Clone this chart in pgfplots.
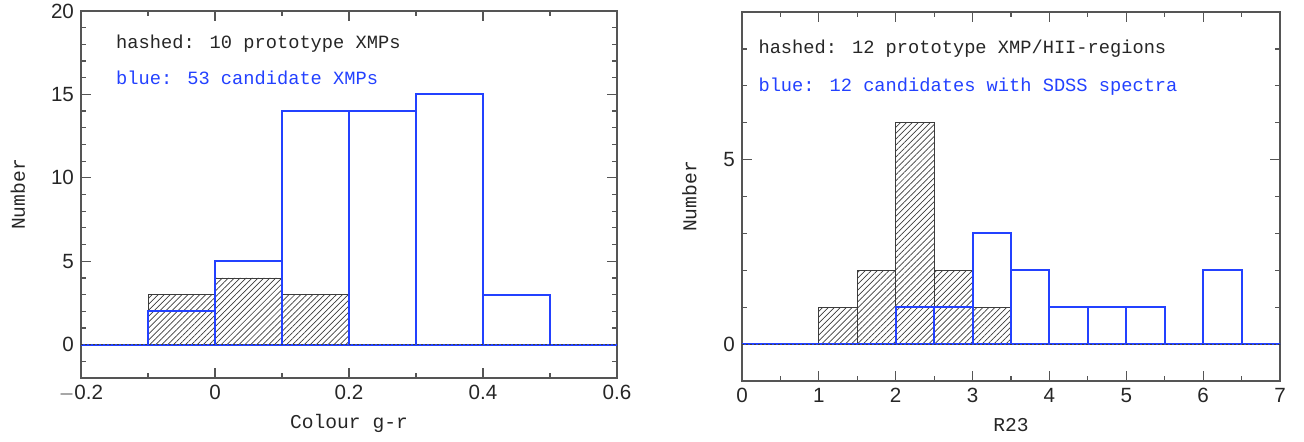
\documentclass[border=0pt]{standalone}
\usepackage{fontspec}
\setmainfont{Liberation Sans}
\newfontfamily\labelfont{Liberation Mono}
\usepackage{pgfplots}
\pgfplotsset{compat=1.18}
\usetikzlibrary{patterns.meta}

\definecolor{histblue}{RGB}{35,65,255}
\definecolor{framegray}{RGB}{85,85,85}
\definecolor{hatchgray}{RGB}{60,60,60}

% Bin edges and counts (last row closes the final interval)
\pgfplotstableread{
x     proto  cand
-0.2  0      0
-0.1  3      2
0.0   4      5
0.1   3      14
0.2   0      14
0.3   0      15
0.4   0      3
0.5   0      0
0.6   0      0
}\colourdata

\pgfplotstableread{
x    proto  cand
0.0  0      0
0.5  0      0
1.0  1      0
1.5  2      0
2.0  6      1
2.5  2      1
3.0  1      3
3.5  0      2
4.0  0      1
4.5  0      1
5.0  0      1
5.5  0      0
6.0  0      2
6.5  0      0
7.0  0      0
}\rtwothreedata

\tikzset{note/.style={anchor=west, inner sep=0pt, font=\labelfont\fontsize{9.35}{12}\selectfont}}

\pgfplotsset{
  histframe/.style={
    scale only axis,
    axis line style={framegray, line width=0.6pt},
    tick style={framegray, line width=0.6pt},
    tick align=inside,
    xtick pos=both, ytick pos=both,
    major tick length=5pt,
    minor tick length=2.5pt,
    ticklabel style={font=\fontsize{10.3}{12}\selectfont, text=black!85},
    /pgf/number format/assume math mode=true,
    label style={font=\labelfont\fontsize{9.8}{12}\selectfont, text=black!85},
    clip=false,
  },
  hatched/.style={
    ybar interval, draw=hatchgray, line width=0.4pt,
    pattern={Lines[angle=45, distance=2.1pt, line width=0.35pt]},
    pattern color=hatchgray,
  },
  bluehist/.style={
    ybar interval, draw=histblue, line width=1pt, fill=none,
  },
  zeroline/.style={
    black!75, line width=0.6pt, dash pattern=on 0.8pt off 1.2pt,
  },
}

\begin{document}
\begin{tikzpicture}
\useasboundingbox (0,0) rectangle (652pt,220.5pt);

\begin{axis}[
  histframe,
  at={(40.5pt,31.5pt)}, anchor=south west,
  width=268pt, height=183.5pt,
  xmin=-0.2, xmax=0.6, ymin=-2, ymax=20,
  xtick={-0.2,0,0.2,0.4,0.6},
  xticklabels={$-$0.2,0,0.2,0.4,0.6},
  minor xtick={-0.1,0.1,0.3,0.5},
  ytick={0,5,10,15,20},
  minor ytick={-1,1,2,...,19},
  xlabel={Colour g-r},
  ylabel={Number},
  xlabel style={at={(axis description cs:0.5,-0.125)}, anchor=center},
  ylabel style={at={(axis description cs:-0.118,0.5)}, anchor=center},
]
\addplot[hatched] table[x=x, y=proto] {\colourdata};
\addplot[bluehist] table[x=x, y=cand] {\colourdata};
\addplot[zeroline] coordinates {(-0.2,0) (0.6,0)};
\node[note, text=black!85] at (rel axis cs:0.065,0.91) {hashed: 10 prototype XMPs};
\node[note, text=histblue] at (rel axis cs:0.065,0.817) {blue: 53 candidate XMPs};
\end{axis}

\begin{axis}[
  histframe,
  at={(371pt,30pt)}, anchor=south west,
  width=269pt, height=184.5pt,
  xmin=0, xmax=7, ymin=-1, ymax=9,
  xtick={0,1,...,7},
  minor xtick={0.5,1.5,...,6.5},
  ytick={0,5},
  minor ytick={-1,1,2,3,4,6,7,8,9},
  xlabel={R23},
  ylabel={Number},
  xlabel style={at={(axis description cs:0.5,-0.119)}, anchor=center},
  ylabel style={at={(axis description cs:-0.098,0.5)}, anchor=center},
]
\addplot[hatched] table[x=x, y=proto] {\rtwothreedata};
\addplot[bluehist] table[x=x, y=cand] {\rtwothreedata};
\addplot[zeroline] coordinates {(0,0) (7,0)};
\node[note, text=black!85] at (rel axis cs:0.03,0.9) {hashed: 12 prototype XMP/HII-regions};
\node[note, text=histblue] at (rel axis cs:0.03,0.797) {blue: 12 candidates with SDSS spectra};
\end{axis}
\end{tikzpicture}
\end{document}
